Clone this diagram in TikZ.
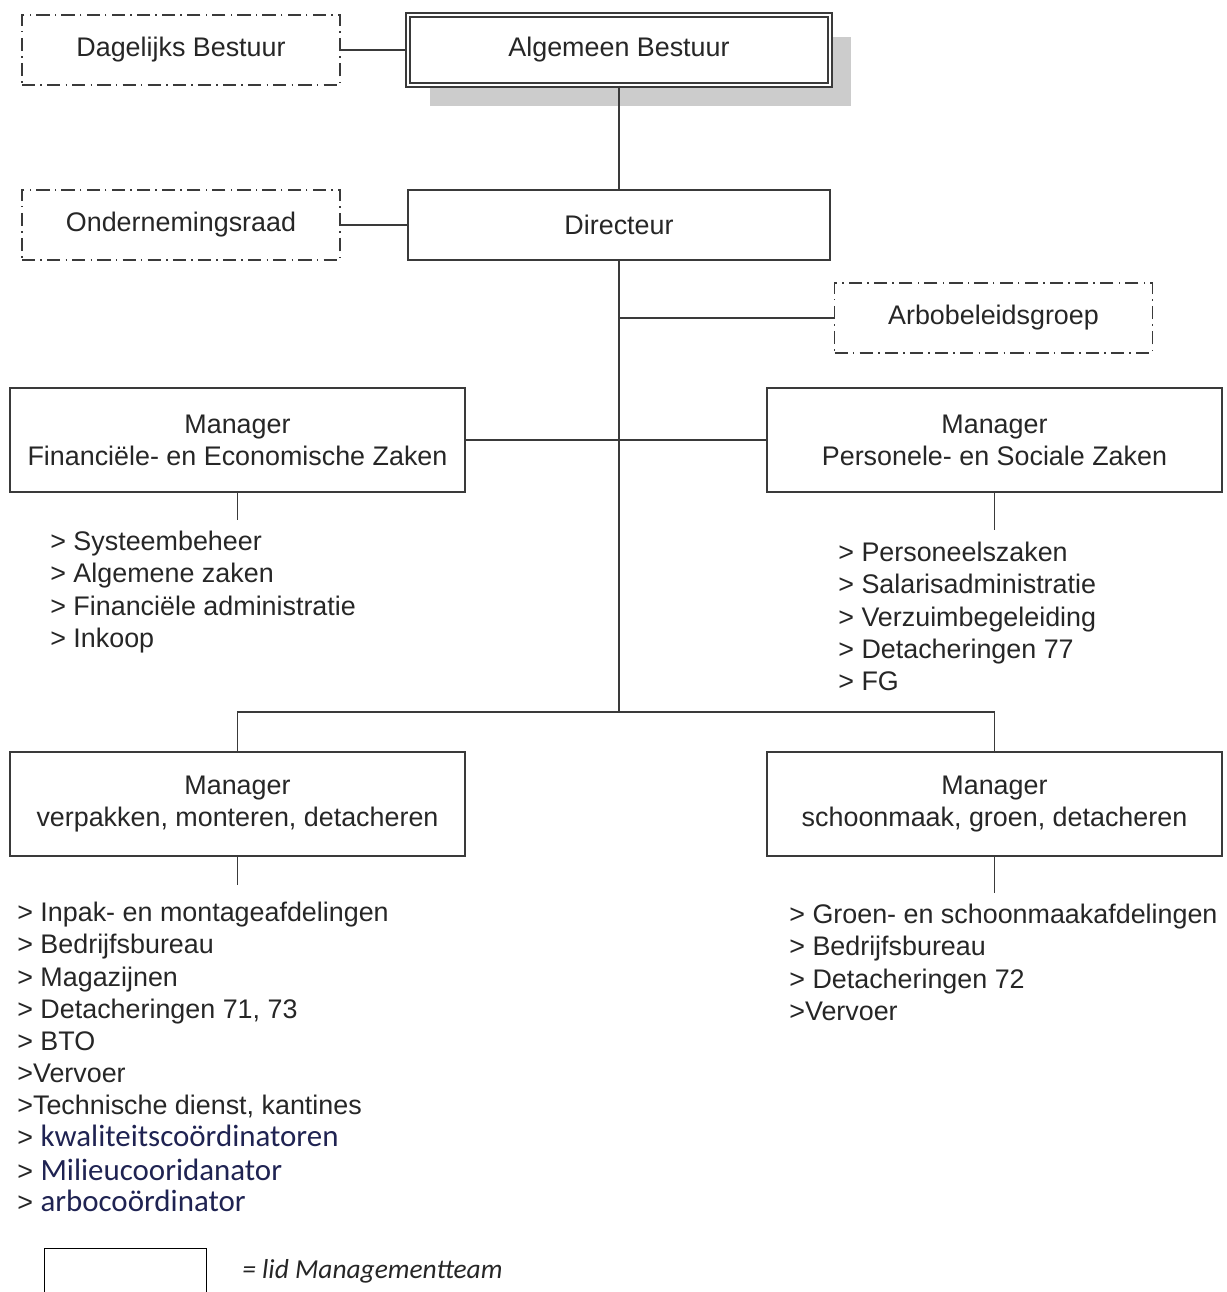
\documentclass[tikz,border=0pt]{standalone}
\usepackage{fontspec}
\setmainfont{Liberation Sans}
\newfontfamily\calib{Carlito}
\usepackage{xcolor}
\usepackage{tikz}
\usetikzlibrary{shadows}
\definecolor{tekst}{HTML}{262626}
\definecolor{lijn}{HTML}{3A3A3A}
\definecolor{navy}{HTML}{1F2352}
\definecolor{schaduw}{HTML}{CCCCCC}
\newcommand{\kalibri}[1]{{\calib\fontsize{17.6}{18}\selectfont\color{navy}#1}}

\tikzset{
  orgbox/.style={draw=lijn, line width=0.8pt, fill=white, minimum width=8.44cm, minimum height=1.4cm, inner sep=0pt},
  advbox/.style={draw=lijn, line width=0.9pt, dash pattern=on 7.5pt off 3pt on 0.8pt off 3pt, minimum width=6.36cm, minimum height=1.4cm, inner sep=0pt},
  mgrbox/.style={draw=lijn, line width=0.8pt, minimum width=9.1cm, minimum height=2.08cm, align=center, inner sep=0pt},
  lijst/.style={anchor=north west, align=left, inner sep=0pt},
  conn/.style={draw=lijn, line width=0.8pt},
}

\begin{document}
\begin{tikzpicture}[x=0.02cm, y=-0.02cm, every node/.style={font=\fontsize{15.3}{18.3}\selectfont, text=tekst}]
    \clip (0,0) rectangle (1227,1292);

    % bestuur
    \node[orgbox, double=white, double distance=1.6pt, line width=0.7pt,
          drop shadow={shadow xshift=0.43cm, shadow yshift=-0.43cm, fill=schaduw, opacity=1}] (ab) at (619,50) {Algemeen Bestuur};
    \node[advbox] (db) at (181,50) {Dagelijks Bestuur};
    \node[orgbox] (dir) at (619,225) {Directeur};
    \node[advbox] (onr) at (181,225) {Ondernemingsraad};
    \node[advbox] (arbo) at (993.5,318) {Arbobeleidsgroep};

    % managers
    \node[mgrbox] (fez) at (237.5,440) {Manager\\Financiële- en Economische Zaken};
    \node[mgrbox] (psz) at (994.5,440) {Manager\\Personele- en Sociale Zaken};
    \node[mgrbox] (vmd) at (237.5,804) {Manager\\verpakken, monteren, detacheren};
    \node[mgrbox] (sgd) at (994.5,804) {Manager\\schoonmaak, groen, detacheren};

    % afdelingen
    \node[lijst] (fezlijst) at (50,531) {> Systeembeheer\\> Algemene zaken\\> Financiële administratie\\> Inkoop};
    \node[lijst] (pszlijst) at (838,542) {> Personeelszaken\\> Salarisadministratie\\> Verzuimbegeleiding\\> Detacheringen 77\\> FG};
    \node[lijst] (vmdlijst) at (17,902) {> Inpak- en montageafdelingen\\> Bedrijfsbureau\\> Magazijnen\\> Detacheringen 71, 73\\> BTO\\>Vervoer\\>Technische dienst, kantines\\> \kalibri{kwaliteitscoördinatoren}\\[1pt] > \kalibri{Milieucooridanator}\\[-1pt] > \kalibri{arbocoördinator}};
    \node[lijst] (sgdlijst) at (789,904) {> Groen- en schoonmaakafdelingen\\> Bedrijfsbureau\\> Detacheringen 72\\>Vervoer};

    % legenda
    \node[draw=black, line width=0.8pt, minimum width=3.24cm, minimum height=1.4cm, anchor=north west] (legenda) at (44,1248) {};
    \node[anchor=west, inner sep=0pt, font=\calib\itshape\fontsize{15.6}{19}\selectfont] (legtekst) at (242,1271) {= lid Managementteam};

    % lijnen
    \coordinate (split) at (619,712);
    \coordinate (fezstub) at (237.5,520);
    \coordinate (pszstub) at (994.5,530);
    \coordinate (vmdstub) at (237.5,885);
    \coordinate (sgdstub) at (994.5,893);
    \draw[conn] (db.east) -- (ab.west);
    \draw[conn] (onr.east) -- (dir.west);
    \draw[conn] (ab.south) -- (dir.north);
    \draw[conn] (dir.south) -- (split);
    \draw[conn] (arbo.west -| dir.south) -- (arbo.west);
    \draw[conn] (fez.east) -- (psz.west);
    \draw[conn] (vmd.north) |- (split) -| (sgd.north);
    \draw[conn] (fez.south) -- (fezstub);
    \draw[conn] (psz.south) -- (pszstub);
    \draw[conn] (vmd.south) -- (vmdstub);
    \draw[conn] (sgd.south) -- (sgdstub);
\end{tikzpicture}
\end{document}
